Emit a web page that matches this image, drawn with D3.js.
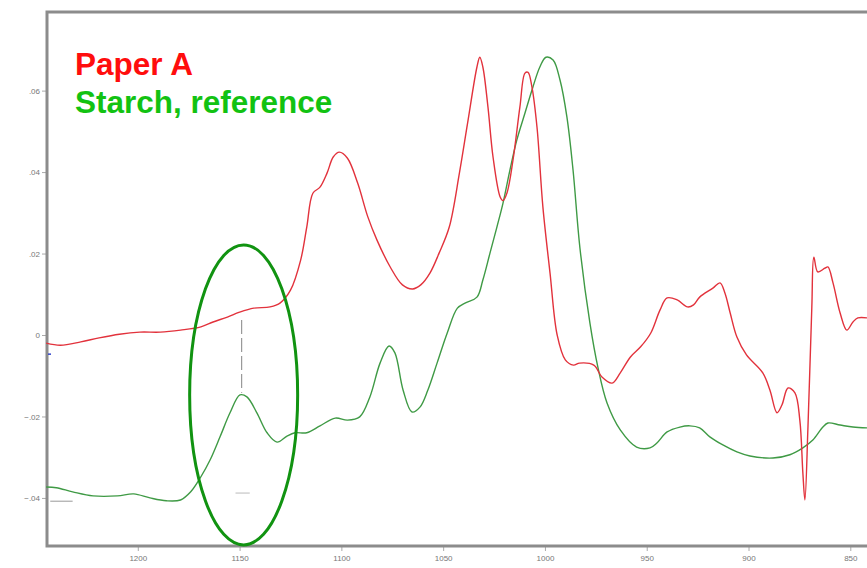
<!DOCTYPE html>
<html>
  <head>
    <meta charset="UTF-8" />
    <title>Paper A vs starch reference</title>
    <script src="https://cdnjs.cloudflare.com/ajax/libs/d3/7.8.5/d3.min.js"></script>
    <style>
      body { margin: 0; padding: 0; background: #fff; }
      svg { display: block; }
      .tick text { font-family: "Liberation Sans", Arial, sans-serif; font-size: 8px; fill: #777; }
      .legend { font-family: "Liberation Sans", Arial, sans-serif; font-weight: bold; font-size: 31.5px; }
    </style>
  </head>
  <body>
    <svg id="chart" width="867" height="568"></svg>
    <script>
      // wavenumber (cm-1) and absorbance
      const paperWn = [1245, 1238, 1228, 1219, 1209, 1199, 1189, 1179, 1169, 1163, 1156, 1150, 1143, 1135, 1130, 1125, 1120, 1117, 1114, 1110.5, 1107, 1104, 1101, 1097, 1092, 1087, 1082.5, 1076, 1070, 1065, 1061, 1056.5, 1052, 1047, 1042, 1038, 1033.4, 1032, 1030.5, 1028, 1025.5, 1022, 1020.6, 1018.7, 1015.7, 1012.3, 1009.8, 1008.3, 1006.4, 1003.9, 1001, 997.5, 994, 990, 986, 983, 976, 972, 967, 963, 958, 953, 948, 943.5, 940, 935, 930, 927, 924, 917.5, 914, 911.6, 909, 905.7, 901, 893, 889.5, 886, 883.6, 880.6, 877.2, 874.8, 873.3, 872.3, 870.8, 868.9, 867.9, 866, 862.5, 861, 858.5, 855, 851.7, 848.7, 846.3, 841.8];
      const paperAbs = [-0.0020, -0.0025, -0.0017, -0.0007, 0.0002, 0.0007, 0.0007, 0.0012, 0.0020, 0.0032, 0.0044, 0.0056, 0.0066, 0.0069, 0.0079, 0.0110, 0.0184, 0.0265, 0.0348, 0.0363, 0.0398, 0.0437, 0.0449, 0.0434, 0.0373, 0.0290, 0.0233, 0.0167, 0.0123, 0.0113, 0.0123, 0.0152, 0.0201, 0.0265, 0.0398, 0.0520, 0.0658, 0.0682, 0.0658, 0.0560, 0.0437, 0.0339, 0.0330, 0.0348, 0.0429, 0.0560, 0.0643, 0.0645, 0.0609, 0.0510, 0.0314, 0.0152, 0.0000, -0.0061, -0.0074, -0.0069, -0.0074, -0.0103, -0.0118, -0.0093, -0.0054, -0.0029, 0.0005, 0.0061, 0.0091, 0.0086, 0.0069, 0.0074, 0.0093, 0.0115, 0.0128, 0.0103, 0.0054, -0.0005, -0.0049, -0.0093, -0.0135, -0.0191, -0.0172, -0.0130, -0.0142, -0.0209, -0.0339, -0.0405, -0.0226, 0.0069, 0.0191, 0.0155, 0.0164, 0.0167, 0.0128, 0.0054, 0.0012, 0.0032, 0.0042, 0.0042];

      const starchWn = [1245, 1240, 1232, 1222, 1210, 1202, 1194, 1186, 1179, 1174, 1169, 1164.5, 1159.6, 1154.7, 1149.8, 1146.4, 1141.5, 1136.5, 1131.6, 1126.7, 1122.8, 1117, 1110.5, 1103, 1097, 1091, 1086, 1081, 1076.6, 1073.7, 1069.7, 1065.3, 1061.4, 1057.5, 1053, 1048, 1043, 1039, 1033.4, 1030.5, 1027, 1023.6, 1020.6, 1017.2, 1013.8, 1009.8, 1005.9, 1002.5, 999.5, 996, 992.6, 989.2, 986.2, 982.8, 977.9, 974, 969.5, 963, 955, 948.4, 945, 940, 933.7, 928.8, 924, 919, 912.6, 905.7, 899.3, 888, 879.7, 873.3, 868.4, 863.5, 861, 855, 848.7, 841.8];
      const starchAbs = [-0.0373, -0.0375, -0.0385, -0.0395, -0.0395, -0.0390, -0.0400, -0.0407, -0.0405, -0.0385, -0.0348, -0.0307, -0.0250, -0.0191, -0.0147, -0.0152, -0.0191, -0.0240, -0.0263, -0.0248, -0.0240, -0.0240, -0.0223, -0.0204, -0.0209, -0.0201, -0.0152, -0.0069, -0.0027, -0.0044, -0.0135, -0.0189, -0.0177, -0.0135, -0.0069, 0.0005, 0.0066, 0.0079, 0.0093, 0.0135, 0.0201, 0.0265, 0.0324, 0.0405, 0.0479, 0.0545, 0.0609, 0.0658, 0.0682, 0.0675, 0.0626, 0.0535, 0.0405, 0.0213, 0.0029, -0.0079, -0.0167, -0.0233, -0.0275, -0.0277, -0.0265, -0.0238, -0.0226, -0.0223, -0.0228, -0.0250, -0.0270, -0.0287, -0.0297, -0.0302, -0.0294, -0.0277, -0.0258, -0.0226, -0.0216, -0.0221, -0.0226, -0.0228];

      const xTicks = [1200, 1150, 1100, 1050, 1000, 950, 900, 850];
      const yTicks = [-0.04, -0.02, 0, 0.02, 0.04, 0.06];
      const seriesNames = ["Paper A", "Starch, reference"];

      const svg = d3.select("#chart");
      const mLeft = 47, mTop = 12, mRight = 867, mBottom = 546;

      const x = d3.scaleLinear().domain([1244.6, 841.8]).range([mLeft, mRight]);
      const y = d3.scaleLinear().domain([-0.0518, 0.0793]).range([mBottom, mTop]);

      // axes, labels like ".06" and "-.02"
      const fmt = v => v === 0 ? "0" : d3.format(".2f")(v).replace("0.", ".");

      const xAxis = svg.append("g")
        .attr("transform", `translate(0,${mBottom})`)
        .call(d3.axisBottom(x).tickValues(xTicks).tickSize(5).tickPadding(4).tickFormat(d3.format("d")));
      const yAxis = svg.append("g")
        .attr("transform", `translate(${mLeft},0)`)
        .call(d3.axisLeft(y).tickValues(yTicks).tickSize(5).tickPadding(2).tickFormat(fmt));
      [xAxis, yAxis].forEach(a => {
        a.select(".domain").remove();
        a.selectAll(".tick line").attr("stroke", "#aaa");
      });

      // frame
      svg.append("path")
        .attr("d", `M${mRight + 5},${mTop} H${mLeft} V${mBottom} H${mRight + 5}`)
        .attr("fill", "none")
        .attr("stroke", "#8c8c8c")
        .attr("stroke-width", 3);

      // small marks in the original plot
      svg.append("line")
        .attr("x1", x(1243)).attr("x2", x(1232))
        .attr("y1", y(-0.0408)).attr("y2", y(-0.0408))
        .attr("stroke", "#999").attr("stroke-width", 1);
      svg.append("line")
        .attr("x1", x(1152)).attr("x2", x(1145))
        .attr("y1", y(-0.0388)).attr("y2", y(-0.0388))
        .attr("stroke", "#bbb").attr("stroke-width", 1);
      svg.append("line")
        .attr("x1", mLeft + 1).attr("x2", mLeft + 4)
        .attr("y1", y(-0.0047)).attr("y2", y(-0.0047))
        .attr("stroke", "#3344cc").attr("stroke-width", 1.5);

      // vertical dashed marker at the starch band
      svg.append("line")
        .attr("x1", x(1149)).attr("x2", x(1149))
        .attr("y1", y(0.0037)).attr("y2", y(-0.0142))
        .attr("stroke", "#999").attr("stroke-width", 1.2)
        .attr("stroke-dasharray", "14,4");

      const line = d3.line().x(d => x(d[0])).y(d => y(d[1])).curve(d3.curveCatmullRom);

      svg.append("path")
        .datum(d3.zip(starchWn, starchAbs))
        .attr("fill", "none")
        .attr("stroke", "#3f9a45")
        .attr("stroke-width", 1.4)
        .attr("d", line);

      svg.append("path")
        .datum(d3.zip(paperWn, paperAbs))
        .attr("fill", "none")
        .attr("stroke", "#e2323c")
        .attr("stroke-width", 1.4)
        .attr("d", line);

      // ellipse highlighting the 1150 band
      svg.append("ellipse")
        .attr("cx", x(1148))
        .attr("cy", y(-0.0147))
        .attr("rx", 54)
        .attr("ry", 150)
        .attr("fill", "none")
        .attr("stroke", "#119311")
        .attr("stroke-width", 3);

      // legend text
      svg.append("text").attr("class", "legend")
        .attr("x", 75).attr("y", 75)
        .attr("fill", "#ff0d0d")
        .text(seriesNames[0]);
      svg.append("text").attr("class", "legend")
        .attr("x", 75).attr("y", 113)
        .attr("fill", "#12c212")
        .text(seriesNames[1]);
    </script>
  </body>
</html>
